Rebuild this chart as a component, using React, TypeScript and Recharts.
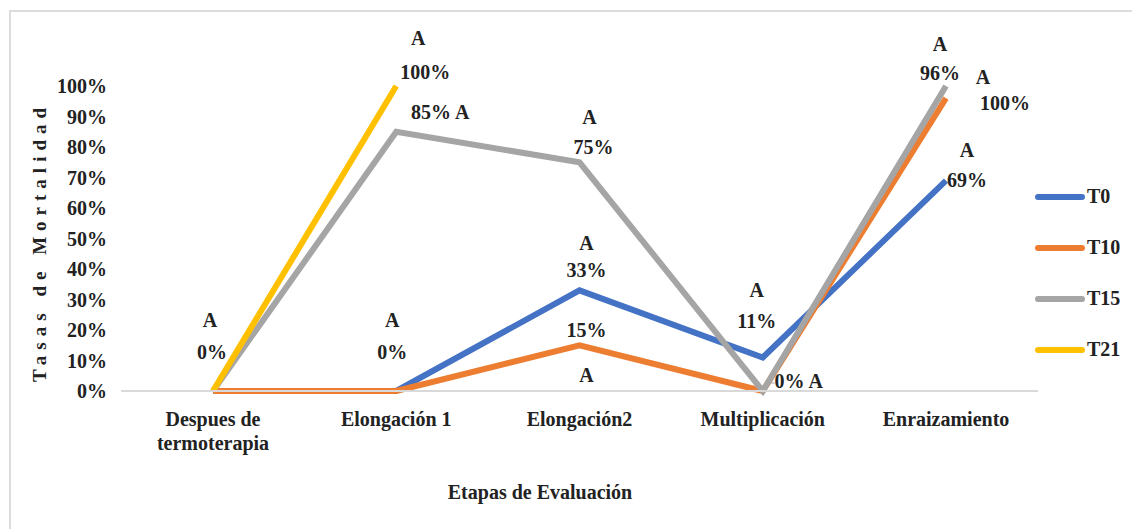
import { LabelList, Line, LineChart, XAxis, YAxis } from "recharts";

const categories = ["Despues de termoterapia", "Elongación 1", "Elongación2", "Multiplicación", "Enraizamiento"];
const tickLines = [["Despues de", "termoterapia"], ["Elongación 1"], ["Elongación2"], ["Multiplicación"], ["Enraizamiento"]];
const yTicks = [0, 10, 20, 30, 40, 50, 60, 70, 80, 90, 100];

const t0 = [0, 0, 33, 11, 69];
const t10 = [0, 0, 15, 0, 96];
const t15 = [0, 85, 75, 0, 100];
const t21 = [0, 100, null, null, null];

// significance letters per series and stage
const t0Letters = [null, null, "A", "A", "A"];
const t10Letters = [null, "A", "A", null, "A"];
const t15Letters = [null, "A", "A", "A", "A"];
const t21Letters = ["A", "A", null, null, null];

const seriesNames = ["T0", "T10", "T15", "T21"];
const colors = ["#4472C4", "#ED7D31", "#A5A5A5", "#FFC000"];

const data = categories.map((name, i) => ({
  name,
  T0: t0[i],
  T10: t10[i],
  T15: t15[i],
  T21: t21[i],
}));

const letterMap: Record<string, (string | null)[]> = { T0: t0Letters, T10: t10Letters, T15: t15Letters, T21: t21Letters };

// label placement: [text kind, dx, dy] relative to the point
type Part = ["L" | "V" | "VL", number, number];
const labelLayout: Record<string, Record<number, Part[]>> = {
  T0: { 2: [["L", 7, -47], ["V", 7, -20]], 3: [["L", -6, -67], ["V", -6, -36]], 4: [["L", 21, -31], ["V", 21, -1]] },
  T10: { 1: [["L", -4, -71], ["V", -4, -39]], 2: [["V", 7, -15], ["L", 7, 30]], 4: [["L", -6, -54], ["V", -6, -25]] },
  T15: { 1: [["VL", 44, -20]], 2: [["L", 10, -45], ["V", 14, -15]], 3: [["VL", 36, -10]], 4: [["L", 37, -9], ["V", 59, 17]] },
  T21: { 0: [["L", -3, -71], ["V", -1, -39]], 1: [["L", 22, -48], ["V", 29, -14]] },
};

const font = "Liberation Serif, DejaVu Serif, serif";
const txtStyle = { fontFamily: font, fontWeight: "bold", fontSize: 20 } as const;

function makeLabel(series: string) {
  return (props: any) => {
    const { x, y, index, value } = props;
    const parts = labelLayout[series][index];
    if (!parts || value == null) return null;
    const letter = letterMap[series][index] ?? "";
    return (
      <g>
        {series === "T15" && index === 3 && (
          <line x1={x + 4} y1={y - 8} x2={x + 12} y2={y - 8} stroke="#a5a5a5" strokeWidth={1} />
        )}
        {parts.map(([kind, dx, dy], k) => {
          const txt = kind === "L" ? letter : kind === "V" ? `${value}%` : `${value}% ${letter}`;
          return (
            <text key={k} x={x + dx} y={y + dy} textAnchor="middle" dominantBaseline="central" style={txtStyle} fill="#222">
              {txt}
            </text>
          );
        })}
      </g>
    );
  };
}

function XTick(props: any) {
  const { x, y, index } = props;
  const lines = tickLines[index] ?? [];
  return (
    <g>
      {lines.map((l, k) => (
        <text key={k} x={x} y={y + 27 + k * 24} textAnchor="middle" style={txtStyle} fill="#222">
          {l}
        </text>
      ))}
    </g>
  );
}

export default function App() {
  return (
    <div style={{ position: "absolute", left: 0, top: 0, width: 1132, height: 529, background: "#fff", overflow: "hidden" }}>
      <div style={{ position: "absolute", left: 9, top: 10, width: 1140, height: 540, border: "2px solid #dcdcdc" }} />
      <LineChart width={1132} height={529} data={data} margin={{ top: 86, right: 94, bottom: 78, left: 61 }}>
        <XAxis dataKey="name" axisLine={{ stroke: "#d9d9d9", strokeWidth: 2 }} tickLine={false} tick={<XTick />} height={60}
          interval={0} padding={{ left: 92, right: 92 }} />
        <YAxis domain={[0, 100]} ticks={yTicks} width={60} axisLine={false} tickLine={false} tickMargin={8}
          tickFormatter={(v: number) => `${v}%`}
          tick={{ style: txtStyle, fill: "#222" }} />
        {seriesNames.map((n, i) => (
          <Line key={n} dataKey={n} stroke={colors[i]} strokeWidth={6} dot={false} isAnimationActive={false}
            strokeLinejoin="miter" strokeLinecap="butt">
            <LabelList dataKey={n} content={makeLabel(n)} />
          </Line>
        ))}
      </LineChart>
      <div style={{ position: "absolute", left: 1035, top: 171, display: "flex", flexDirection: "column" }}>
        {seriesNames.map((n, i) => (
          <div key={n} style={{ display: "flex", alignItems: "center", height: 51 }}>
            <div style={{ width: 50, height: 6, borderRadius: 3, background: colors[i] }} />
            <span style={{ ...txtStyle, color: "#222", marginLeft: 2 }}>{n}</span>
          </div>
        ))}
      </div>
      <div style={{ position: "absolute", left: 40, top: 242, transform: "translate(-50%, -50%) rotate(-90deg)", whiteSpace: "nowrap",
        fontFamily: font, fontWeight: "bold", fontSize: 19, letterSpacing: 6, color: "#222" }}>
        Tasas de Mortalidad
      </div>
      <div style={{ position: "absolute", left: 540, top: 492, transform: "translate(-50%, -50%)", whiteSpace: "nowrap",
        ...txtStyle, color: "#222" }}>
        Etapas de Evaluación
      </div>
    </div>
  );
}
